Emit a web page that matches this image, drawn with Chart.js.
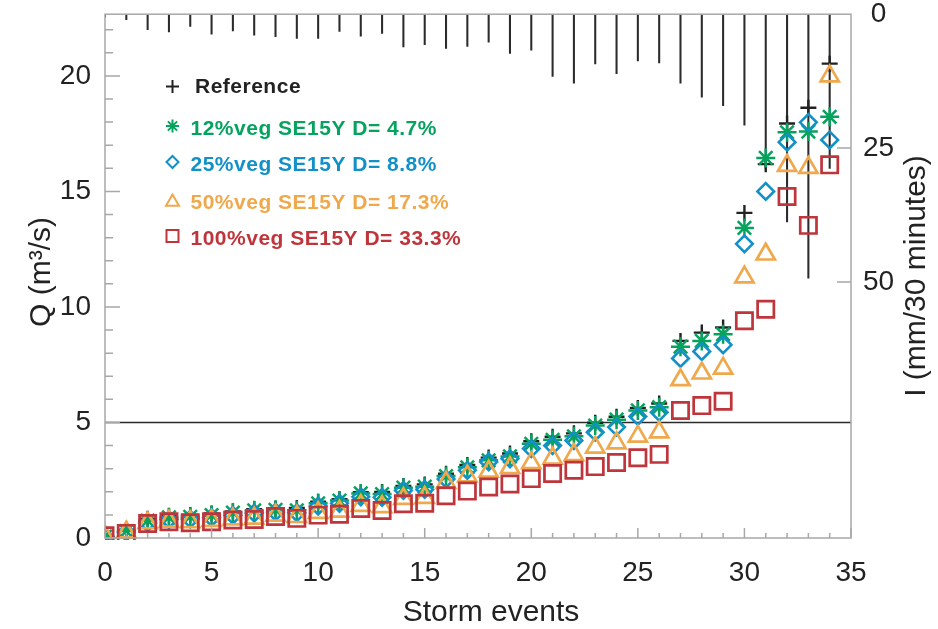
<!DOCTYPE html>
<html><head><meta charset="utf-8">
<script src="https://cdn.jsdelivr.net/npm/chart.js@4.4.1/dist/chart.umd.min.js"></script>
<style>html,body{margin:0;padding:0;background:#fff;}#wrap{width:938px;height:629px;position:relative;}</style>
</head><body><div id="wrap"><canvas id="c"></canvas></div>
<script>
// ---------- data ----------
const EVENTS = [0,1,2,3,4,5,6,7,8,9,10,11,12,13,14,15,16,17,18,19,20,21,22,23,24,25,26,27,28,29,30,31,32,33,34];
const Q_REF  = [0.08,0.35,0.83,0.96,1.0,1.06,1.15,1.25,1.27,1.3,1.57,1.68,1.98,1.99,2.25,2.32,2.78,3.16,3.48,3.66,4.19,4.38,4.53,4.99,5.25,5.63,5.82,8.53,8.89,9.11,14.07,16.18,17.94,18.62,20.53];
const Q_12   = [0.06,0.3,0.75,0.89,0.92,0.99,1.1,1.2,1.22,1.2,1.5,1.62,1.93,1.9,2.18,2.22,2.68,3.06,3.36,3.53,4.08,4.25,4.4,4.87,5.12,5.52,5.66,8.28,8.53,8.82,13.42,16.45,17.56,17.59,18.23];
const Q_25   = [0.05,0.25,0.65,0.8,0.82,0.88,0.98,1.08,1.12,1.09,1.38,1.5,1.78,1.76,2.06,2.1,2.55,2.93,3.29,3.43,3.87,4.0,4.22,4.58,4.8,5.26,5.44,7.77,8.07,8.36,12.73,15.0,17.13,17.99,17.23];
const Q_50   = [0.08,0.25,0.65,0.72,0.7,0.75,0.82,0.85,0.98,0.92,1.1,1.15,1.4,1.35,1.7,1.75,2.4,2.68,2.88,3.04,3.25,3.45,3.6,3.92,4.11,4.4,4.58,6.84,7.13,7.34,11.29,12.28,16.12,16.03,19.99];
const Q_100  = [0.1,0.2,0.63,0.7,0.66,0.7,0.78,0.8,0.93,0.85,0.99,1.03,1.28,1.19,1.48,1.5,1.83,2.03,2.21,2.34,2.57,2.79,2.93,3.09,3.27,3.47,3.62,5.52,5.73,5.92,9.4,9.9,14.78,13.53,16.15];
const RAIN_I = [0.5,1.0,2.9,3.3,2.3,3.75,3.1,3.9,4.2,4.5,4.5,3.2,4.1,3.6,6.1,5.7,6.4,6.0,5.2,7.3,6.7,11.6,12.9,9.3,11.1,8.7,9.1,12.9,15.5,17.1,20.7,28.8,38.8,49.3,28.8];
const SERIES_NAMES = ['Reference','12%veg SE15Y D= 4.7%','25%veg SE15Y D= 8.8%','50%veg SE15Y D= 17.3%','100%veg SE15Y D= 33.3%'];
const X_TICKS = [0,5,10,15,20,25,30,35];
const Y_TICKS = [0,5,10,15,20];
const I_TICKS = [0,25,50];
const Q_THRESHOLD = 5;
const X_TITLE = 'Storm events';
const Y_TITLE = 'Q (m\u00b3/s)';
const I_TITLE = 'I (mm/30 minutes)';

// ---------- styles ----------
const COLORS = ['#222222','#05a35e','#1290c8','#f0a84c','#be353b'];
const STYLES = ['cross','star','rectRot','triangle','rect'];
const RADII  = [8,9.5,8.3,10.5,11.5];
const WIDTHS = [2.4,2.5,2.6,2.7,2.7];
const FONT = '"Liberation Sans", Arial, Helvetica, sans-serif';
const GRAY = '#a8a8a8';
Chart.defaults.font.family = FONT;
Chart.defaults.color = '#222';

const seriesVals = [Q_REF,Q_12,Q_25,Q_50,Q_100];
const pointSets = seriesVals.map((vals,k)=>({
  type:'scatter',
  label: SERIES_NAMES[k],
  data: EVENTS.map((e,i)=>({x:e,y:vals[i]})),
  xAxisID:'x', yAxisID:'y',
  pointStyle: STYLES[k], pointRadius: RADII[k], pointHoverRadius: RADII[k],
  borderColor: COLORS[k], backgroundColor:'rgba(0,0,0,0)',
  pointBorderWidth: WIDTHS[k], borderWidth: WIDTHS[k],
  showLine:false,
  order: 5-k,
  clip:{left:0,top:false,right:false,bottom:2}
}));
const rainSet = {
  type:'bar', label:'I',
  data: EVENTS.map((e,i)=>({x:e,y:RAIN_I[i]})),
  xAxisID:'x', yAxisID:'y2',
  backgroundColor:'#2b2b2b', borderWidth:0,
  barThickness:1.4, grouped:false, order:10
};

function sym(ctx, style, x, y, r){
  ctx.beginPath();
  const d = r*Math.SQRT1_2;
  if(style==='cross'){ctx.moveTo(x-r,y);ctx.lineTo(x+r,y);ctx.moveTo(x,y-r);ctx.lineTo(x,y+r);}
  else if(style==='star'){ctx.moveTo(x-r,y);ctx.lineTo(x+r,y);ctx.moveTo(x,y-r);ctx.lineTo(x,y+r);
    ctx.moveTo(x-d,y-d);ctx.lineTo(x+d,y+d);ctx.moveTo(x-d,y+d);ctx.lineTo(x+d,y-d);}
  else if(style==='rectRot'){ctx.moveTo(x-r,y);ctx.lineTo(x,y-r);ctx.lineTo(x+r,y);ctx.lineTo(x,y+r);ctx.closePath();}
  else if(style==='triangle'){ctx.moveTo(x,y-r);ctx.lineTo(x+r*0.866,y+r*0.5);ctx.lineTo(x-r*0.866,y+r*0.5);ctx.closePath();}
  else if(style==='rect'){ctx.rect(x-r,y-r,2*r,2*r);}
  ctx.stroke();
}

const decor = {
  id:'decor',
  beforeDatasetsDraw(chart){
    const {ctx, chartArea:a, scales:{y}} = chart;
    const py = y.getPixelForValue(Q_THRESHOLD);
    ctx.save(); ctx.strokeStyle='#2a2a2a'; ctx.lineWidth=1.4;
    ctx.beginPath(); ctx.moveTo(a.left,py); ctx.lineTo(a.right,py); ctx.stroke(); ctx.restore();
  },
  afterDraw(chart){
    const {ctx, chartArea:a, scales:{x,y,y2}} = chart;
    ctx.save();
    ctx.strokeStyle=GRAY; ctx.lineWidth=1.5;
    ctx.strokeRect(a.left,a.top,a.right-a.left,a.bottom-a.top);
    ctx.beginPath();
    for(let v=x.min; v<=x.max; v++){
      const px=x.getPixelForValue(v); const len=(v%5===0)?10:5;
      ctx.moveTo(px,a.bottom); ctx.lineTo(px,a.bottom-len);
    }
    for(let v=0; v<=Math.floor(y.max); v++){
      const py=y.getPixelForValue(v); const len=(v%5===0)?15:8;
      ctx.moveTo(a.left,py); ctx.lineTo(a.left+len,py);
    }
    I_TICKS.forEach(v=>{ if(v===0) return; const py=y2.getPixelForValue(v);
      ctx.moveTo(a.right,py); ctx.lineTo(a.right-14,py); });
    ctx.stroke();
    // axis titles
    ctx.fillStyle='#222'; ctx.font='30px '+FONT; ctx.textAlign='center'; ctx.textBaseline='middle';
    ctx.fillText(X_TITLE, 491, 613);
    ctx.save(); ctx.translate(42,272); ctx.rotate(-Math.PI/2); ctx.fillText(Y_TITLE,0,0); ctx.restore();
    ctx.save(); ctx.translate(917,276); ctx.rotate(-Math.PI/2); ctx.fillText(I_TITLE,0,0); ctx.restore();
    // legend
    const rowsY=[87.5,129,165.5,203,239];
    const symY=[86.5,126,162,202,236];
    const symR=[6.5,6.5,6,7.5,6];
    ctx.font='bold 21px '+FONT; ctx.textAlign='left'; ctx.textBaseline='middle';
    try{ ctx.letterSpacing='0.5px'; }catch(e){}
    SERIES_NAMES.forEach((n,k)=>{
      ctx.fillStyle=COLORS[k]; ctx.strokeStyle=COLORS[k]; ctx.lineWidth=2;
      sym(ctx, STYLES[k], 172.5, symY[k], symR[k]);
      ctx.fillText(n, k===0?195:190.5, rowsY[k]);
    });
    ctx.restore();
  }
};

new Chart(document.getElementById('c'), {
  type:'scatter',
  data:{ datasets:[rainSet, ...pointSets] },
  options:{
    responsive:true, maintainAspectRatio:false, animation:false,
    layout:{padding:{top:12,left:0,right:0,bottom:0}},
    plugins:{legend:{display:false}, tooltip:{enabled:false}},
    scales:{
      x:{type:'linear', min:0, max:35, offset:false,
        grid:{display:false, drawTicks:false, offset:false}, border:{display:false},
        ticks:{font:{size:28}, padding:18, color:'#222', maxRotation:0},
        afterBuildTicks:s=>{s.ticks=X_TICKS.map(v=>({value:v}));},
        afterFit:s=>{s.height=91; s.paddingLeft=0; s.paddingRight=0;}},
      y:{type:'linear', position:'left', min:0, max:22.67,
        grid:{display:false, drawTicks:false}, border:{display:false},
        ticks:{font:{size:28}, padding:14, color:'#222'},
        afterBuildTicks:s=>{s.ticks=Y_TICKS.map(v=>({value:v}));},
        afterFit:s=>{s.width=105; s.paddingTop=0; s.paddingBottom=0;}},
      y2:{type:'linear', position:'right', reverse:true, min:0, max:97.8, beginAtZero:true,
        grid:{display:false, drawTicks:false}, border:{display:false},
        ticks:{font:{size:28}, padding:12, color:'#222', crossAlign:'center'},
        afterBuildTicks:s=>{s.ticks=I_TICKS.map(v=>({value:v}));},
        afterFit:s=>{s.width=87; s.paddingTop=0; s.paddingBottom=0;}}
    }
  },
  plugins:[decor]
});
</script></body></html>
